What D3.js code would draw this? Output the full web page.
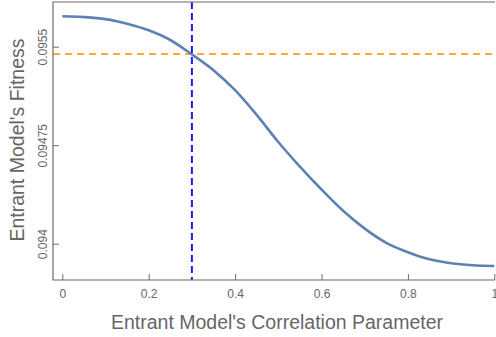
<!DOCTYPE html>
<html>
<head>
<meta charset="utf-8">
<script src="https://cdn.jsdelivr.net/npm/d3@7"></script>
<style>
  body { margin: 0; background: #fff; }
  svg { display: block; font-family: "Liberation Sans", Arial, sans-serif; }
</style>
</head>
<body>
<svg id="plot" width="496" height="337"></svg>
<script>
// correlation parameter vs fitness
const corr = [0, 0.05, 0.1, 0.15, 0.2, 0.25, 0.3, 0.35, 0.4, 0.45, 0.5,
              0.55, 0.6, 0.65, 0.7, 0.75, 0.8, 0.85, 0.9, 0.95, 1];
const fitness = [0.0957315, 0.0957254, 0.0957102, 0.0956751, 0.0956249, 0.0955510,
                 0.0954414, 0.0953211, 0.0951688, 0.0949807, 0.0947744,
                 0.0945871, 0.0944127, 0.0942505, 0.0941150, 0.0940068,
                 0.0939353, 0.0938812, 0.0938507, 0.0938356, 0.0938302];
const xTicks = [0, 0.2, 0.4, 0.6, 0.8, 1];
const yTicks = [0.094, 0.09475, 0.0955];
const xMark = 0.3;       // vertical dashed line
const yMark = 0.095444;  // horizontal dashed line

const svg = d3.select("#plot");
const frame = {left: 53, right: 495, top: 2, bottom: 280};

const x = d3.scaleLinear().domain([0, 1]).range([62.3, 494.3]);
const y = d3.scaleLinear().domain([0.094, 0.0955]).range([243.7, 46.7]);

const axisColor = "#6b6b6b";
const textColor = "#666";

// reference lines
svg.append("line")
  .attr("x1", frame.left).attr("x2", frame.right)
  .attr("y1", y(yMark)).attr("y2", y(yMark))
  .attr("stroke", "#ff8c00").attr("stroke-width", 1.6)
  .attr("stroke-dasharray", "7,5");

// curve
const data = corr.map((c, i) => ({c: c, f: fitness[i]}));
svg.append("path")
  .datum(data)
  .attr("fill", "none")
  .attr("stroke", "#5e81b5")
  .attr("stroke-width", 2.6)
  .attr("d", d3.line().x(d => x(d.c)).y(d => y(d.f)).curve(d3.curveMonotoneX));

svg.append("line")
  .attr("x1", x(xMark)).attr("x2", x(xMark))
  .attr("y1", frame.top).attr("y2", frame.bottom)
  .attr("stroke", "#1a1aff").attr("stroke-width", 2)
  .attr("stroke-dasharray", "7,4");

// frame
svg.append("path")
  .attr("d", `M${frame.right},${frame.top}H${frame.left}V${frame.bottom}H${frame.right}`)
  .attr("fill", "none").attr("stroke", axisColor).attr("stroke-width", 1.2);

// bottom axis, ticks inside
const xAxis = svg.append("g")
  .attr("transform", `translate(0,${frame.bottom})`)
  .call(d3.axisBottom(x).tickValues(xTicks).tickSizeInner(-6).tickSizeOuter(0)
        .tickPadding(9).tickFormat(d => d3.format("")(d)));
xAxis.select(".domain").remove();
xAxis.selectAll(".tick line").attr("stroke", axisColor);
xAxis.selectAll(".tick text").attr("fill", textColor).style("font-size", "12px")
  .attr("font-family", "Liberation Sans, Arial, sans-serif");

// left axis, ticks inside, labels rotated
const yAxis = svg.append("g")
  .attr("transform", `translate(${frame.left},0)`)
  .call(d3.axisLeft(y).tickValues(yTicks).tickSizeInner(-6).tickSizeOuter(0)
        .tickFormat(d => String(d)));
yAxis.select(".domain").remove();
yAxis.selectAll(".tick line").attr("stroke", axisColor);
yAxis.selectAll(".tick text")
  .attr("fill", textColor).style("font-size", "12px")
  .attr("font-family", "Liberation Sans, Arial, sans-serif")
  .attr("x", null).attr("dy", null)
  .attr("text-anchor", "middle")
  .attr("transform", "translate(-6,0) rotate(-90)");

// axis titles
svg.append("text")
  .attr("x", 277).attr("y", 329)
  .attr("text-anchor", "middle")
  .attr("fill", textColor)
  .style("font-size", "19.5px")
  .text("Entrant Model's Correlation Parameter");

svg.append("text")
  .attr("transform", "translate(24,140) rotate(-90)")
  .attr("text-anchor", "middle")
  .attr("fill", textColor)
  .style("font-size", "19.5px")
  .text("Entrant Model's Fitness");
</script>
</body>
</html>
